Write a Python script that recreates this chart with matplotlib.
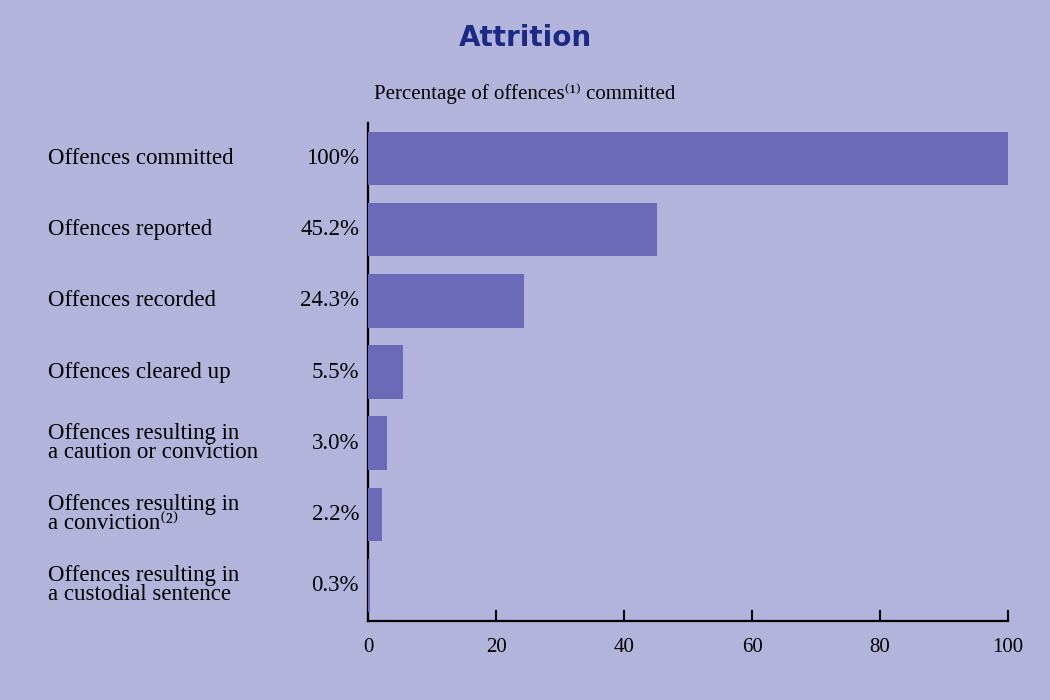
import matplotlib
matplotlib.use("Agg")
import matplotlib.pyplot as plt

categories = [
    "Offences committed",
    "Offences reported",
    "Offences recorded",
    "Offences cleared up",
    "Offences resulting in\na caution or conviction",
    "Offences resulting in\na conviction\u207d\u00b2\u207e",
    "Offences resulting in\na custodial sentence",
]
values = [100, 45.2, 24.3, 5.5, 3.0, 2.2, 0.3]
value_labels = ["100%", "45.2%", "24.3%", "5.5%", "3.0%", "2.2%", "0.3%"]
xticks = [0, 20, 40, 60, 80, 100]

serif = ['Liberation Serif', 'DejaVu Serif']
bg = '#b3b4dc'
bar_color = '#6a6ab8'

fig = plt.figure(figsize=(10.5, 7), dpi=100, facecolor=bg)
ax = fig.add_axes([0.3505, 0.1129, 0.6095, 0.7113])
ax.set_facecolor(bg)

ypos = list(range(len(categories)))
ax.barh(ypos, values, height=0.75, color=bar_color, zorder=3)
ax.set_ylim(len(categories) - 0.5, -0.5)
ax.set_xlim(0, 100)

for s in ['top', 'right']:
    ax.spines[s].set_visible(False)
for s in ['left', 'bottom']:
    ax.spines[s].set_color('black')
    ax.spines[s].set_linewidth(1.6)
    ax.spines[s].set_zorder(2)

ax.set_yticks([])
ax.set_xticks(xticks)
ax.set_xticklabels([str(t) for t in xticks], family=serif, fontsize=15)
ax.tick_params(axis='x', direction='in', length=8, width=1.5, pad=12, colors='black')

for i, (cat, vl) in enumerate(zip(categories, value_labels)):
    ax.text(-0.5, i, cat, transform=ax.get_yaxis_transform(), ha='left', va='center',
            family=serif, fontsize=16.5, linespacing=0.88)
    ax.text(-0.014, i, vl, transform=ax.get_yaxis_transform(), ha='right', va='center',
            family=serif, fontsize=16.5)

fig.text(0.5, 0.946, "Attrition", ha='center', va='center', fontsize=20,
         fontweight='bold', color='#1a2a85', family='DejaVu Sans')
fig.text(0.5, 0.866, "Percentage of offences\u207d\u00b9\u207e committed", ha='center', va='center',
         family=serif, fontsize=15)

fig.savefig("out.png", dpi=100, facecolor=bg)
